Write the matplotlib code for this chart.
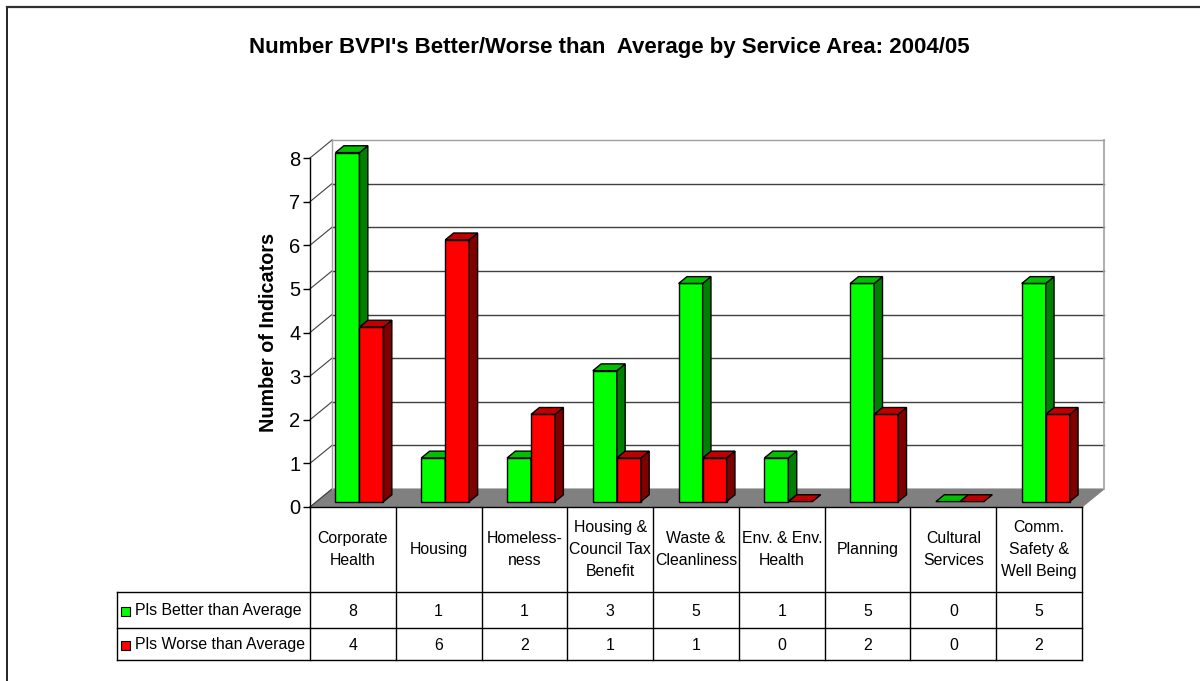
import matplotlib
matplotlib.use("Agg")
import matplotlib.pyplot as plt
from matplotlib.patches import Polygon, Rectangle
from matplotlib.lines import Line2D
from matplotlib.transforms import Affine2D, blended_transform_factory

plt.rcParams['font.family'] = ['Liberation Sans', 'DejaVu Sans']

title = "Number BVPI's Better/Worse than  Average by Service Area: 2004/05"
categories = ["Corporate\nHealth", "Housing", "Homeless-\nness", "Housing &\nCouncil Tax\nBenefit",
              "Waste &\nCleanliness", "Env. & Env.\nHealth", "Planning", "Cultural\nServices",
              "Comm.\nSafety &\nWell Being"]
series_labels = ["Pls Better than Average", "Pls Worse than Average"]
better = [8, 1, 1, 3, 5, 1, 5, 0, 5]
worse = [4, 6, 2, 1, 1, 0, 2, 0, 2]
yticks = [0, 1, 2, 3, 4, 5, 6, 7, 8]
ylabel = "Number of Indicators"

W, H = 1200, 681
fig = plt.figure(figsize=(W / 100, H / 100), dpi=100)
fig.patch.set_facecolor('white')

# pixel transform (origin top-left)
T = Affine2D().scale(1 / W, -1 / H).translate(0, 1) + fig.transFigure

# plot area (front plane)
x0p, x1p = 310, 1082
y0p, y8p = 507, 158
ax = fig.add_axes([x0p / W, 1 - y0p / H, (x1p - x0p) / W, (y0p - y8p) / H])
n = len(categories)
ax.set_xlim(0, n)
ax.set_ylim(0, 8)
ax.patch.set_alpha(0)
for s in ['top', 'right', 'bottom']:
    ax.spines[s].set_visible(False)
ax.spines['left'].set_color('black')
ax.spines['left'].set_linewidth(1.0)
ax.set_xticks([])
ax.set_yticks(yticks)
ax.set_yticklabels([str(t) for t in yticks], fontsize=14.5)
ax.tick_params(axis='y', length=5, width=1, pad=2, colors='black')
fig.text(268, 333, ylabel, transform=T, rotation=90, ha='center', va='center',
         fontsize=14.2, fontweight='bold')

px_per_cat = (x1p - x0p) / n
px_per_unit = (y0p - y8p) / 8
DX = 22 / px_per_cat
DY = 18 / px_per_unit

# floor
ax.add_patch(Polygon([(0, 0), (n, 0), (n + DX, DY), (DX, DY)], closed=True,
                     facecolor='#808080', edgecolor='#808080', lw=0.8, clip_on=False, zorder=1))
# back wall gridlines
for v in yticks[1:]:
    ax.add_line(Line2D([DX, n + DX], [v + DY, v + DY], color='#404040' if v < 8 else '#a0a0a0',
                       lw=1.0, clip_on=False, zorder=1))
# left wall diagonals
for v in yticks:
    ax.add_line(Line2D([0, DX], [v, v + DY], color='#404040', lw=0.8, clip_on=False, zorder=1))
ax.add_line(Line2D([DX, DX], [DY, 8 + DY], color='#a0a0a0', lw=1.0, clip_on=False, zorder=1))
ax.add_line(Line2D([n + DX, n + DX], [DY, 8 + DY], color='#a0a0a0', lw=1.2, clip_on=False, zorder=1))

# bars
f0, f1 = 0.3, 0.68
bw = 24 / px_per_cat
colors = [('#00ff00', '#00c000', '#008000'), ('#ff0000', '#c00000', '#800000')]
for i in range(n):
    c = i + 0.5
    for k, vals in enumerate([better, worse]):
        v = vals[i]
        front, top, side = colors[k]
        xl = c - bw + k * bw + f0 * DX
        xr = xl + bw
        yb = f0 * DY
        ddx = (f1 - f0) * DX
        ddy = (f1 - f0) * DY
        if v > 0:
            ax.bar([xl], [v], width=bw, bottom=yb, align='edge', color=front,
                   edgecolor='black', linewidth=1.0, zorder=3 + k, clip_on=False)
            ax.add_patch(Polygon([(xr, yb), (xr + ddx, yb + ddy), (xr + ddx, yb + ddy + v), (xr, yb + v)],
                                 closed=True, facecolor=side, edgecolor='black', lw=1.0,
                                 zorder=3 + k, clip_on=False))
        ax.add_patch(Polygon([(xl, yb + v), (xr, yb + v), (xr + ddx, yb + v + ddy), (xl + ddx, yb + v + ddy)],
                             closed=True, facecolor=top, edgecolor='black', lw=1.0,
                             zorder=3 + k, clip_on=False))

# data table
TB = blended_transform_factory(ax.transData, T)
ty = [507, 592, 628, 660]
tx_left = 117
lk = dict(color='black', lw=1.0, clip_on=False)
fig.add_artist(Line2D([0, n], [ty[0], ty[0]], transform=TB, **lk))
for yy in ty[1:]:
    fig.add_artist(Line2D([tx_left, x1p], [yy, yy], transform=T, **lk))
fig.add_artist(Line2D([tx_left, tx_left], [ty[1], ty[3]], transform=T, **lk))
for i in range(n + 1):
    fig.add_artist(Line2D([i, i], [ty[0], ty[3]], transform=TB, **lk))
tfs = 11.4
for i, cat in enumerate(categories):
    fig.text(i + 0.5, (ty[0] + ty[1]) / 2, cat, transform=TB, ha='center', va='center',
             fontsize=tfs, linespacing=1.58)
    fig.text(i + 0.5, (ty[1] + ty[2]) / 2 + 1, str(better[i]), transform=TB, ha='center', va='center',
             fontsize=tfs)
    fig.text(i + 0.5, (ty[2] + ty[3]) / 2 + 1, str(worse[i]), transform=TB, ha='center', va='center',
             fontsize=tfs)
for r, (lab, col) in enumerate(zip(series_labels, ['#00ff00', '#ff0000'])):
    yc = (ty[r + 1] + ty[r + 2]) / 2 + 1
    fig.add_artist(Rectangle((121, yc - 4.5), 9, 9, transform=T, facecolor=col,
                             edgecolor='black', lw=0.8))
    fig.text(135, yc, lab, transform=T, ha='left', va='center', fontsize=tfs)

# title
fig.text(609, 47, title, transform=T, ha='center', va='center', fontsize=16, fontweight='bold')

# chart border
fig.add_artist(Line2D([7, 7], [7, H], transform=T, color='black', lw=1.2))
fig.add_artist(Line2D([7, W], [7, 7], transform=T, color='#303030', lw=1.6))

fig.savefig('out.png', dpi=100, facecolor='white')
